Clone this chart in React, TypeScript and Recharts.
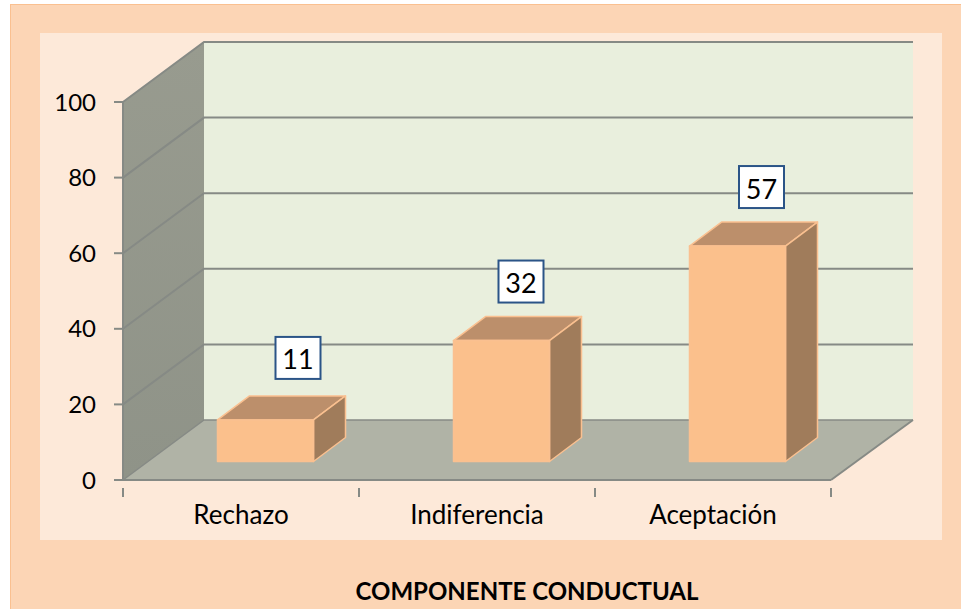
import React from "react";
import { BarChart, Bar, XAxis, YAxis, LabelList, usePlotArea } from "recharts";

const categories = ["Rechazo", "Indiferencia", "Aceptación"];
const values = [11, 32, 57];
const yTicks = [0, 20, 40, 60, 80, 100];
const title = "COMPONENTE CONDUCTUAL";

const rows = categories.map((name, i) => ({ name, value: values[i] }));

const FONT = "Lato, 'Open Sans', sans-serif";
const WALL_DX = 81;
const WALL_DY = -60;
const BAR_DX = 24.5;
const BAR_DY = -18.5;
const TOP_DX = 32;
const TOP_DY = -24;
const AXIS_COLOR = "#868a85";
const YMAX = yTicks[yTicks.length - 1];
const LABEL_NUDGE_X = [32.5, 19.5, 24];
const LABEL_NUDGE_Y = [-62, -59, -59];

function Walls() {
  const area = usePlotArea();
  if (!area) return null;
  const { x, y, width, height } = area;
  const x2 = x + width;
  const y2 = y + height;
  const pts = (a: number[][]) => a.map((p) => p.join(",")).join(" ");
  return (
    <g>
      <defs>
        <linearGradient id="sideWall" x1="0" y1="0" x2="0" y2="1">
          <stop offset="0" stopColor="#989B8F" />
          <stop offset="1" stopColor="#8F9388" />
        </linearGradient>
      </defs>
      <polygon
        points={pts([[x + WALL_DX, y + WALL_DY], [x2 + WALL_DX + 1, y + WALL_DY], [x2 + WALL_DX + 1, y2 + WALL_DY], [x + WALL_DX, y2 + WALL_DY]])}
        fill="#E9EFDD"
      />
      <polygon
        points={pts([[x, y], [x + WALL_DX, y + WALL_DY], [x + WALL_DX, y2 + WALL_DY], [x, y2]])}
        fill="url(#sideWall)"
      />
      <polygon
        points={pts([[x, y2], [x2, y2], [x2 + WALL_DX + 1, y2 + WALL_DY], [x + WALL_DX, y2 + WALL_DY]])}
        fill="#B0B3A6"
      />
      {yTicks.map((t) => {
        const ty = y + height * (1 - t / YMAX);
        return (
          <polyline
            key={t}
            points={pts([[x, ty], [x + WALL_DX, ty + WALL_DY], [x2 + WALL_DX + 1, ty + WALL_DY]])}
            fill="none"
            stroke={AXIS_COLOR}
            strokeWidth={t === 0 ? 1.5 : 2}
          />
        );
      })}
      <line x1={x2} y1={y2} x2={x2 + WALL_DX + 1} y2={y2 + WALL_DY} stroke={AXIS_COLOR} strokeWidth={2} />
    </g>
  );
}

function Box3D(props: any) {
  const { x, y, width, height } = props;
  const l = x + BAR_DX;
  const r = l + width;
  const t = y + BAR_DY;
  const b = t + height;
  const edge = "#FAC090";
  const poly = (a: number[][]) => a.map((p) => p.join(",")).join(" ");
  return (
    <g stroke={edge} strokeWidth={1.5} strokeLinejoin="round">
      <polygon points={poly([[l, t], [l + TOP_DX, t + TOP_DY], [r + TOP_DX, t + TOP_DY], [r, t]])} fill="#BC8F6B" />
      <polygon points={poly([[r, t], [r + TOP_DX, t + TOP_DY], [r + TOP_DX, b + TOP_DY], [r, b]])} fill="#A07C5B" />
      <rect x={l} y={t} width={width} height={height} fill="#FBC08C" />
    </g>
  );
}

function ValueBox(props: any) {
  const { x, y, width, value, index } = props;
  const cx = x + width / 2 + BAR_DX + LABEL_NUDGE_X[index];
  const cy = y + BAR_DY + LABEL_NUDGE_Y[index];
  return (
    <g>
      <rect x={cx - 22.5} y={cy - 21} width={45} height={42} fill="#FFFFFF" stroke="#2B5487" strokeWidth={2} />
      <text x={cx} y={cy + 1} textAnchor="middle" dominantBaseline="central" fontFamily={FONT} fontSize={27} fill="#000">
        {value}
      </text>
    </g>
  );
}

function CategoryTick(props: any) {
  const { x, y, payload, index, width } = props;
  const band = width / categories.length;
  return (
    <g>
      <line x1={x - band / 2} y1={y} x2={x - band / 2} y2={y + 9} stroke={AXIS_COLOR} strokeWidth={2} />
      {index === categories.length - 1 && (
        <line x1={x + band / 2} y1={y} x2={x + band / 2} y2={y + 9} stroke={AXIS_COLOR} strokeWidth={2} />
      )}
      <text x={x} y={y + 26} textAnchor="middle" dominantBaseline="central" fontFamily={FONT} fontSize={26} fill="#000">
        {payload.value}
      </text>
    </g>
  );
}

export default function App() {
  return (
    <div style={{ position: "absolute", left: 0, top: 0, width: 961, height: 609, background: "#fff", overflow: "hidden" }}>
      <div style={{ position: "absolute", left: 10, top: 4, width: 951, height: 605, background: "#FCD5B5", borderLeft: "1px solid #FAC090", borderTop: "1px solid #FAC090", boxSizing: "border-box" }} />
      <div style={{ position: "absolute", left: 40, top: 33, width: 902, height: 507, background: "#FDE9D9" }} />
      <div style={{ position: "absolute", left: 0, top: 0 }}>
        <BarChart
          width={961}
          height={609}
          data={rows}
          margin={{ top: 102, right: 130, bottom: 0, left: 0 }}
          barSize={96}
        >
          <Walls />
          <XAxis
            dataKey="name"
            type="category"
            height={129}
            axisLine={{ stroke: AXIS_COLOR, strokeWidth: 2 }}
            tickLine={false}
            tick={<CategoryTick />}
            interval={0}
            label={{
              value: title,
              position: "insideBottom",
              offset: 9,
              dx: 50,
              style: { fontFamily: FONT, fontSize: 24, fontWeight: 700, fill: "#000" },
            }}
          />
          <YAxis
            type="number"
            domain={[0, YMAX]}
            ticks={yTicks}
            width={123}
            axisLine={{ stroke: AXIS_COLOR, strokeWidth: 2 }}
            tickLine={{ stroke: AXIS_COLOR, strokeWidth: 2 }}
            tickSize={9}
            tickMargin={18}
            tick={{ fontFamily: FONT, fontSize: 24, fill: "#000" }}
            interval={0}
          />
          <Bar dataKey="value" shape={<Box3D />} isAnimationActive={false}>
            <LabelList dataKey="value" content={<ValueBox />} />
          </Bar>
        </BarChart>
      </div>
    </div>
  );
}
